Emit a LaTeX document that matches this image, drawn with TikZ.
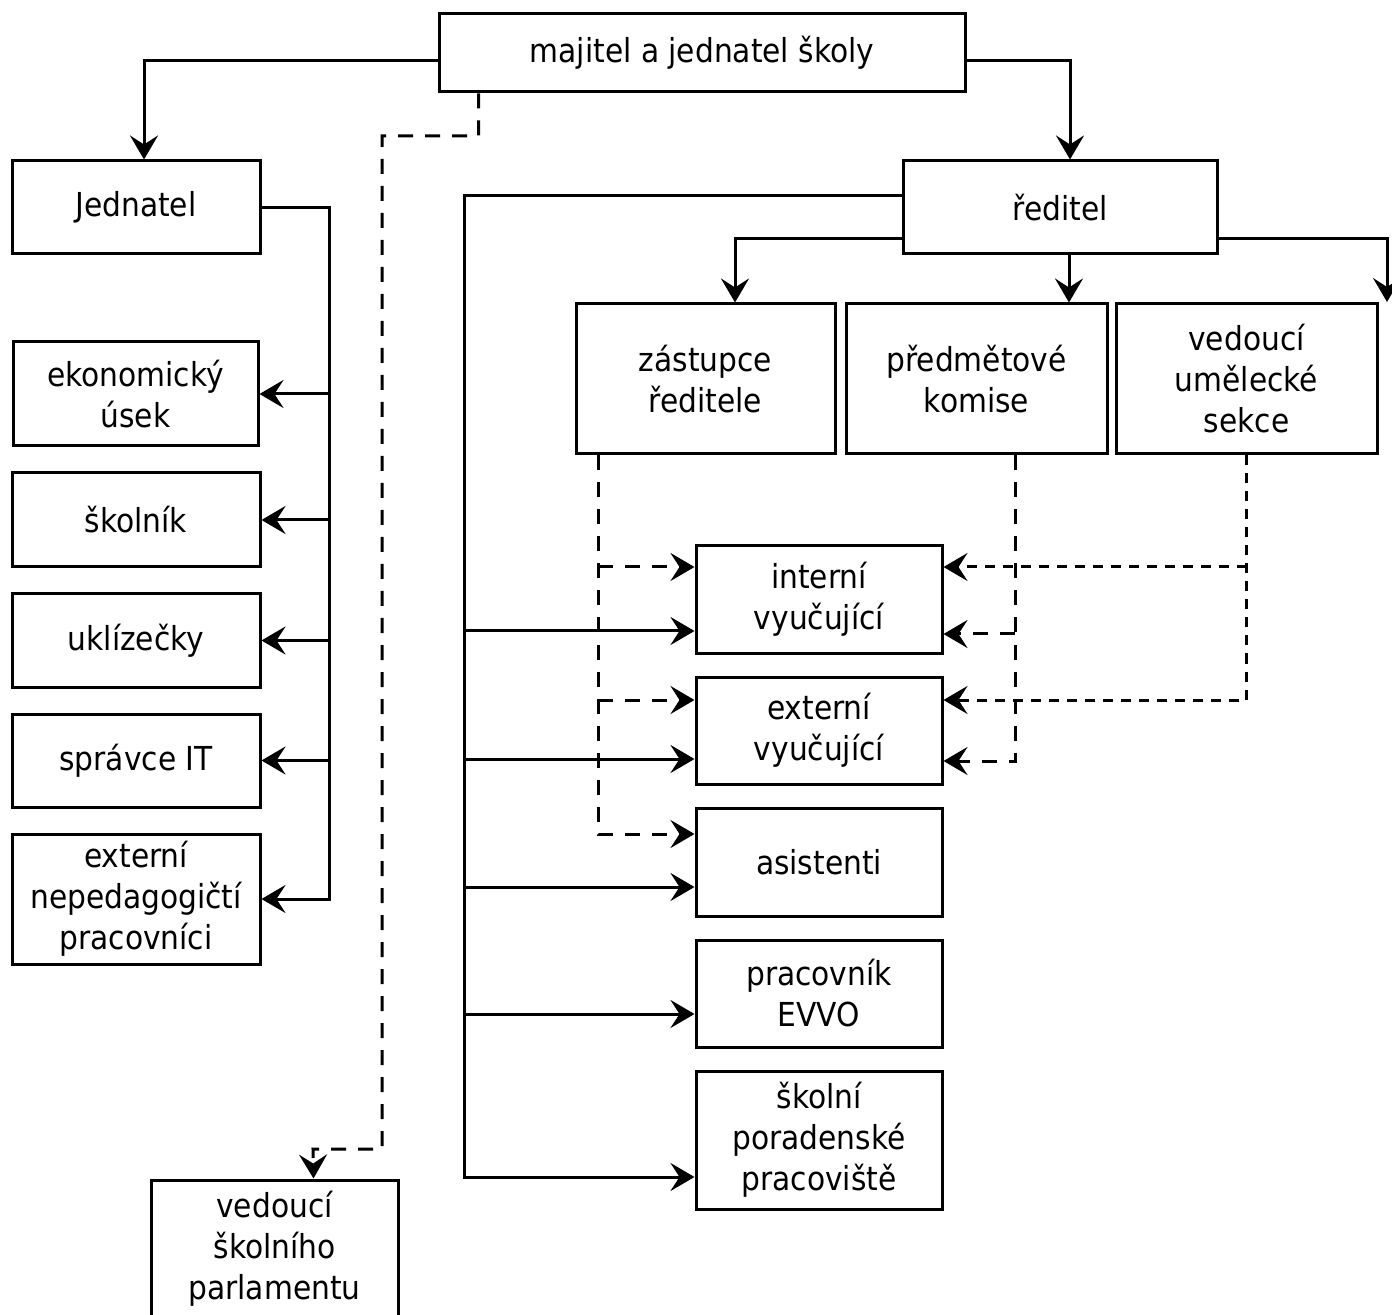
\documentclass[tikz,border=0pt]{standalone}
\usepackage{fontspec}
\setmainfont{DejaVu Sans Condensed}
\usetikzlibrary{arrows.meta}
\usetikzlibrary{positioning}
\usetikzlibrary{scopes}

\tikzset{
    box/.style={draw, line width=1.5pt, align=center, inner sep=0pt,
        font=\fontsize{16.5}{20.5}\selectfont},
    link/.style={line width=1.5pt},
    tip/.style={-{Stealth[length=12pt,width=14pt,inset=4.5pt]}},
    longdash/.style={dash pattern=on 7.5pt off 6pt},
    shortdash/.style={dash pattern=on 5pt off 4pt},
}

\begin{document}
\begin{tikzpicture}[x=0.5pt,y=-0.5pt]
        \useasboundingbox (0,0) rectangle (1392,1315);

        % boxes
        \node[box, minimum width=263pt, minimum height=39pt] (majitel) at (702,53) {majitel a jednatel školy};
        \node[box, minimum width=124pt, minimum height=46.5pt] (jednatel) at (136,207.5) {Jednatel};
        \node[box, minimum width=157pt, minimum height=46.5pt] (reditel) at (1060,207.5) {ředitel};

        \node[box, minimum width=122.5pt, minimum height=52pt] (ekonom) at (135.5,394) {ekonomický\\úsek};
        \node[box, minimum width=124pt, minimum height=47pt] (skolnik) at (136,520) {školník};
        \node[box, minimum width=124pt, minimum height=46.5pt] (uklizecky) at (136,640.5) {uklízečky};
        \node[box, minimum width=124pt, minimum height=46.5pt] (spravce) at (136,760.5) {správce IT};
        \node[box, minimum width=124pt, minimum height=65pt] (extnep) at (136,899) {externí\\nepedagogičtí\\pracovníci};
        \node[box, minimum width=123.5pt, minimum height=69pt] (parlament) at (274.5,1249) {vedoucí\\školního\\parlamentu};

        \node[box, minimum width=129.5pt, minimum height=75pt] (zastupce) at (705.5,379) {zástupce\\ředitele};
        \node[box, minimum width=130.5pt, minimum height=75pt] (predmet) at (976.5,379) {předmětové\\komise};
        \node[box, minimum width=130.5pt, minimum height=75pt] (umel) at (1246.5,379) {vedoucí\\umělecké\\sekce};

        \node[box, minimum width=123pt, minimum height=53.5pt] (intern) at (819,599.5) {interní\\vyučující};
        \node[box, minimum width=123pt, minimum height=53.5pt] (extern) at (819,730.5) {externí\\vyučující};
        \node[box, minimum width=123pt, minimum height=54pt] (asist) at (819,862) {asistenti};
        \node[box, minimum width=123pt, minimum height=53.5pt] (evvo) at (819,993.5) {pracovník\\EVVO};
        \node[box, minimum width=123pt, minimum height=69pt] (porad) at (819,1140) {školní\\poradenské\\pracoviště};

        \coordinate (jbus) at (329,207.5);
        \coordinate (rbus) at (464,196);
        \coordinate (rend) at (1387,302);
        \coordinate (pbend) at (382,136);
        \coordinate (pfoot) at (313,1149);
        \coordinate (zbus) at ([xshift=-53.75pt]zastupce.south);
        \coordinate (kbus) at ([xshift=19.25pt]predmet.south);
        \coordinate (ubus) at (umel.south);

        { [link]
            % top level
            \draw[tip] ([yshift=-4pt]majitel.west) -| ([xshift=4pt]jednatel.north);
            \draw[tip] ([yshift=-4pt]majitel.east) -| ([xshift=5pt]reditel.north);

            % Jednatel
            \draw[tip] (jednatel.east) -| (jbus |- extnep.east) -- (extnep.east);
            \draw[tip] (ekonom.east -| jbus) -- (ekonom.east);
            \draw[tip] (skolnik.east -| jbus) -- (skolnik.east);
            \draw[tip] (uklizecky.east -| jbus) -- (uklizecky.east);
            \draw[tip] (spravce.east -| jbus) -- (spravce.east);

            % reditel
            \draw[tip] ([yshift=-15.75pt]reditel.west) -| ([xshift=14.75pt]zastupce.north);
            \draw[tip] ([xshift=4.5pt]reditel.south) -- ([xshift=4.5pt]reditel.south |- predmet.north);
            \draw[tip] ([yshift=-15.75pt]reditel.east) -| (rend);
            \draw[tip] ([yshift=5.75pt]reditel.west) -| ([yshift=-18.5pt]porad.west -| rbus) -- ([yshift=-18.5pt]porad.west);
            \draw[tip] ([yshift=-15.75pt]intern.west -| rbus) -- ([yshift=-15.75pt]intern.west);
            \draw[tip] ([yshift=-14.25pt]extern.west -| rbus) -- ([yshift=-14.25pt]extern.west);
            \draw[tip] ([yshift=-12.5pt]asist.west -| rbus) -- ([yshift=-12.5pt]asist.west);
            \draw[tip] ([yshift=-10.25pt]evvo.west -| rbus) -- ([yshift=-10.25pt]evvo.west);

            { [longdash]
                % parlament
                \draw[tip] ([xshift=20.5pt]majitel.south west) |- (pbend) |- (pfoot) -- ([xshift=19.5pt]parlament.north);

                % zastupce
                \draw[tip] (zbus) |- ([yshift=14pt]asist.west);
                \draw[tip] ([yshift=16.25pt]intern.west -| zbus) -- ([yshift=16.25pt]intern.west);
                \draw[tip] ([yshift=15.25pt]extern.west -| zbus) -- ([yshift=15.25pt]extern.west);

                % predmetove komise
                \draw[tip] (kbus) |- ([yshift=-15.25pt]extern.east);
                \draw[tip] ([yshift=-17.25pt]intern.east -| kbus) -- ([yshift=-17.25pt]intern.east);
            }
            { [shortdash]
                % umelecka sekce
                \draw[tip] (ubus) |- ([yshift=15.25pt]extern.east);
                \draw[tip] ([yshift=16.25pt]intern.east -| ubus) -- ([yshift=16.25pt]intern.east);
            }
        }
    \end{tikzpicture}
\end{document}
